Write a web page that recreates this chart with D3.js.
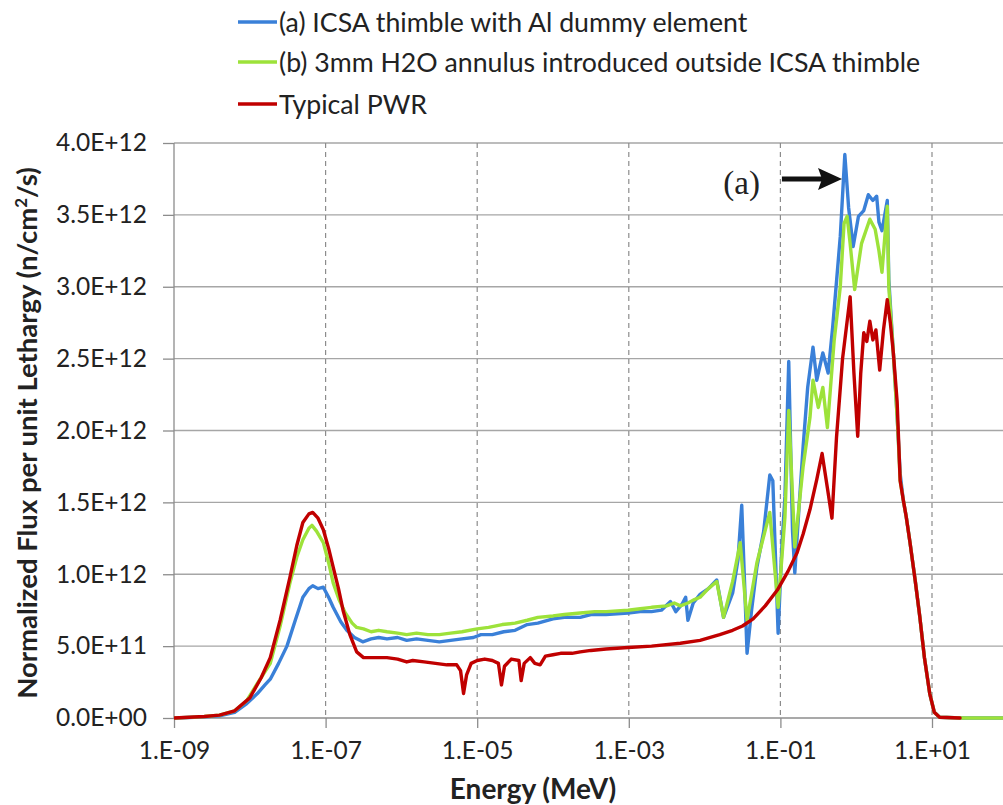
<!DOCTYPE html>
<html><head><meta charset="utf-8">
<script src="https://cdn.jsdelivr.net/npm/d3@7"></script>
<style>body{margin:0;background:#fff} text{font-family:Lato, "Open Sans", sans-serif;fill:#222}</style>
</head><body><svg id="c" width="1003" height="805"></svg>
<script>
// ---------------- data ----------------
const xTickValues = [1e-9, 1e-7, 1e-5, 1e-3, 1e-1, 1e1];
const xTickLabels = ["1.E-09", "1.E-07", "1.E-05", "1.E-03", "1.E-01", "1.E+01"];
const yTickValues = [0, 0.5, 1, 1.5, 2, 2.5, 3, 3.5, 4]; // units of 1E+12
const yTickLabels = ["0.0E+00", "5.0E+11", "1.0E+12", "1.5E+12", "2.0E+12", "2.5E+12", "3.0E+12", "3.5E+12", "4.0E+12"];
const seriesNames = ["(a) ICSA thimble with Al dummy element", "(b) 3mm H2O annulus introduced outside ICSA thimble", "Typical PWR"];
const seriesColors = ["#3a80d8", "#9de23a", "#c00000"];

// [log10(Energy / MeV), flux in 1E+12 n/cm2/s]
const seriesA = [[-9,0],[-8.8,0.003],[-8.6,0.008],[-8.4,0.015],[-8.2,0.04],[-8.04,0.10],[-7.9,0.17],[-7.8,0.23],[-7.73,0.27],[-7.62,0.38],[-7.51,0.50],[-7.4,0.68],[-7.3,0.84],[-7.22,0.90],[-7.17,0.92],[-7.1,0.90],[-7.03,0.91],[-6.96,0.84],[-6.9,0.77],[-6.8,0.67],[-6.72,0.61],[-6.62,0.56],[-6.51,0.53],[-6.4,0.55],[-6.3,0.56],[-6.19,0.55],[-6.05,0.56],[-5.93,0.54],[-5.8,0.55],[-5.65,0.54],[-5.5,0.53],[-5.35,0.54],[-5.2,0.55],[-5.05,0.56],[-4.95,0.58],[-4.8,0.58],[-4.65,0.60],[-4.5,0.61],[-4.34,0.65],[-4.2,0.66],[-4.0,0.69],[-3.85,0.70],[-3.64,0.70],[-3.5,0.72],[-3.3,0.72],[-3.01,0.73],[-2.85,0.74],[-2.7,0.74],[-2.57,0.75],[-2.45,0.81],[-2.38,0.74],[-2.3,0.79],[-2.25,0.84],[-2.22,0.68],[-2.15,0.80],[-2.06,0.86],[-1.95,0.90],[-1.84,0.96],[-1.75,0.70],[-1.63,0.87],[-1.56,1.10],[-1.51,1.48],[-1.47,0.90],[-1.44,0.45],[-1.38,0.75],[-1.31,1.05],[-1.22,1.30],[-1.14,1.69],[-1.1,1.65],[-1.03,0.59],[-0.98,1.20],[-0.94,1.54],[-0.89,2.48],[-0.84,1.30],[-0.81,1.01],[-0.75,1.50],[-0.7,1.89],[-0.64,2.30],[-0.57,2.58],[-0.52,2.35],[-0.44,2.54],[-0.37,2.40],[-0.31,2.72],[-0.21,3.35],[-0.15,3.92],[-0.1,3.55],[-0.04,3.28],[0.03,3.49],[0.1,3.53],[0.16,3.64],[0.22,3.60],[0.27,3.63],[0.3,3.45],[0.34,3.39],[0.41,3.60],[0.43,3.05],[0.49,2.54],[0.54,2.10],[0.58,1.70],[0.62,1.52],[0.66,1.40],[0.71,1.22],[0.78,0.95],[0.84,0.70],[0.9,0.42],[0.97,0.17],[1.03,0.04],[1.1,0.005],[1.4,0],[1.95,0]];

const seriesB = [[-9,0],[-8.8,0.004],[-8.6,0.01],[-8.4,0.02],[-8.2,0.05],[-8.04,0.12],[-7.9,0.24],[-7.73,0.38],[-7.6,0.64],[-7.47,0.94],[-7.38,1.12],[-7.3,1.24],[-7.22,1.32],[-7.18,1.34],[-7.12,1.30],[-7.03,1.22],[-6.96,1.08],[-6.9,0.94],[-6.82,0.82],[-6.74,0.73],[-6.65,0.66],[-6.59,0.63],[-6.5,0.62],[-6.4,0.60],[-6.3,0.61],[-6.19,0.60],[-6.05,0.59],[-5.93,0.58],[-5.8,0.59],[-5.65,0.58],[-5.5,0.58],[-5.35,0.59],[-5.2,0.60],[-5.0,0.62],[-4.85,0.63],[-4.67,0.65],[-4.5,0.66],[-4.34,0.68],[-4.2,0.70],[-4.0,0.71],[-3.85,0.72],[-3.64,0.73],[-3.45,0.74],[-3.3,0.74],[-3.01,0.75],[-2.85,0.76],[-2.7,0.77],[-2.5,0.78],[-2.4,0.80],[-2.32,0.78],[-2.22,0.80],[-2.15,0.82],[-2.06,0.84],[-1.95,0.90],[-1.84,0.95],[-1.75,0.70],[-1.63,0.95],[-1.53,1.22],[-1.44,0.68],[-1.31,1.08],[-1.14,1.43],[-1.03,0.77],[-0.94,1.40],[-0.89,2.14],[-0.81,1.19],[-0.7,1.75],[-0.61,2.09],[-0.57,2.35],[-0.5,2.16],[-0.44,2.30],[-0.38,2.02],[-0.29,2.63],[-0.21,3.00],[-0.16,3.44],[-0.12,3.49],[-0.08,3.30],[-0.02,2.98],[0.07,3.30],[0.18,3.47],[0.25,3.40],[0.3,3.25],[0.34,3.10],[0.41,3.56],[0.43,3.00],[0.49,2.54],[0.55,2.00],[0.58,1.65],[0.62,1.52],[0.66,1.40],[0.71,1.22],[0.78,0.95],[0.84,0.70],[0.9,0.42],[0.97,0.17],[1.03,0.04],[1.1,0.005],[1.4,0],[1.95,0]];

const seriesPWR = [[-9,0],[-8.8,0.005],[-8.6,0.01],[-8.4,0.02],[-8.2,0.05],[-8.0,0.14],[-7.85,0.28],[-7.73,0.42],[-7.6,0.68],[-7.47,0.98],[-7.38,1.20],[-7.3,1.36],[-7.22,1.42],[-7.17,1.43],[-7.1,1.39],[-7.03,1.31],[-6.96,1.18],[-6.9,1.05],[-6.83,0.90],[-6.77,0.75],[-6.68,0.58],[-6.59,0.46],[-6.5,0.42],[-6.4,0.42],[-6.3,0.42],[-6.19,0.42],[-6.05,0.41],[-5.93,0.39],[-5.85,0.40],[-5.7,0.39],[-5.55,0.38],[-5.4,0.37],[-5.27,0.37],[-5.22,0.33],[-5.18,0.17],[-5.14,0.30],[-5.08,0.38],[-5.0,0.40],[-4.9,0.41],[-4.8,0.40],[-4.72,0.38],[-4.68,0.23],[-4.64,0.36],[-4.55,0.41],[-4.45,0.40],[-4.42,0.26],[-4.38,0.38],[-4.3,0.42],[-4.24,0.38],[-4.17,0.37],[-4.1,0.43],[-4.0,0.44],[-3.9,0.45],[-3.75,0.45],[-3.64,0.46],[-3.5,0.47],[-3.3,0.48],[-3.01,0.49],[-2.7,0.50],[-2.32,0.52],[-2.06,0.54],[-1.8,0.58],[-1.63,0.61],[-1.5,0.64],[-1.36,0.69],[-1.2,0.78],[-1.04,0.89],[-0.9,1.02],[-0.78,1.15],[-0.7,1.28],[-0.61,1.45],[-0.52,1.66],[-0.45,1.84],[-0.38,1.60],[-0.32,1.39],[-0.26,1.95],[-0.18,2.50],[-0.08,2.93],[-0.03,2.40],[0.02,1.96],[0.06,2.40],[0.1,2.68],[0.14,2.62],[0.18,2.76],[0.22,2.63],[0.26,2.70],[0.31,2.42],[0.36,2.70],[0.41,2.91],[0.45,2.75],[0.49,2.54],[0.54,2.20],[0.58,1.65],[0.62,1.52],[0.66,1.40],[0.71,1.22],[0.78,0.95],[0.84,0.70],[0.9,0.42],[0.97,0.17],[1.03,0.04],[1.1,0.005],[1.37,0]];

// ---------------- chart ----------------
const svg = d3.select("#c");
const W = 1003, H = 805;
const plotLeft = 174, plotTop = 143, plotBottom = 718;
const x = d3.scaleLog().domain([1e-9, 1e2]).range([plotLeft, plotLeft + 11 * 75.8]);
const y = d3.scaleLinear().domain([0, 4]).range([plotBottom, plotTop]);

svg.append("clipPath").attr("id", "clip").append("rect")
  .attr("x", plotLeft).attr("y", 0).attr("width", W - plotLeft).attr("height", plotBottom + 2);

// horizontal gridlines
svg.append("g").selectAll("line").data(yTickValues.slice(1)).join("line")
  .attr("x1", plotLeft).attr("x2", W).attr("y1", d => y(d)).attr("y2", d => y(d))
  .attr("stroke", "#a6a6a6").attr("stroke-width", 1.3);

// vertical dashed gridlines
svg.append("g").selectAll("line").data(xTickValues.slice(1)).join("line")
  .attr("x1", d => x(d)).attr("x2", d => x(d)).attr("y1", plotTop).attr("y2", plotBottom)
  .attr("stroke", "#8c8c8c").attr("stroke-width", 1.2).attr("stroke-dasharray", "5,4");

// y axis
const yAxis = d3.axisLeft(y).tickValues(yTickValues).tickFormat((d, i) => yTickLabels[i]).tickSize(11).tickPadding(16);
const gy = svg.append("g").attr("transform", `translate(${plotLeft},0)`).call(yAxis);
gy.select(".domain").attr("stroke", "#8c8c8c").attr("stroke-width", 1.3).attr("d", `M0,${plotTop}V${plotBottom}`);
gy.selectAll(".tick line").attr("stroke", "#8c8c8c").attr("stroke-width", 1.3);
gy.selectAll(".tick text").style("font-size", "24.5px").style("font-family", "Lato").attr("fill", "#222");

// x axis
const xAxis = d3.axisBottom(x).tickValues(xTickValues).tickFormat((d, i) => xTickLabels[i]).tickSize(10).tickPadding(14);
const gx = svg.append("g").attr("transform", `translate(0,${plotBottom})`).call(xAxis);
gx.select(".domain").attr("stroke", "#8c8c8c").attr("stroke-width", 1.3).attr("d", `M${plotLeft},0H${W}`);
gx.selectAll(".tick line").attr("stroke", "#8c8c8c").attr("stroke-width", 1.3);
gx.selectAll(".tick text").style("font-size", "24.5px").style("font-family", "Lato").attr("fill", "#222");

// series
const line = d3.line().x(d => x(Math.pow(10, d[0]))).y(d => y(d[1]));
const allSeries = [seriesA, seriesB, seriesPWR];
svg.append("g").attr("clip-path", "url(#clip)").selectAll("path").data(allSeries).join("path")
  .attr("d", line).attr("fill", "none")
  .attr("stroke", (d, i) => seriesColors[i]).attr("stroke-width", 3.4)
  .attr("stroke-linejoin", "round").attr("stroke-linecap", "round");

// axis titles
svg.append("text").attr("x", 533).attr("y", 799).attr("text-anchor", "middle")
  .style("font-size", "28px").style("font-weight", "bold").text("Energy (MeV)");
const yt = svg.append("text").attr("transform", `translate(37,433) rotate(-90)`).attr("text-anchor", "middle")
  .style("font-size", "27.5px").style("font-weight", "bold");
yt.append("tspan").text("Normalized Flux per unit Lethargy (n/cm");
yt.append("tspan").attr("dy", -10).style("font-size", "17px").text("2");
yt.append("tspan").attr("dy", 10).text("/s)");

// legend
const lg = svg.append("g").selectAll("g").data(seriesNames).join("g")
  .attr("transform", (d, i) => `translate(238,${[22, 62, 104][i]})`);
lg.append("line").attr("x1", 0).attr("x2", 39).attr("stroke", (d, i) => seriesColors[i]).attr("stroke-width", 3.4);
lg.append("text").attr("x", 41).attr("y", 9.5).style("font-size", "26.7px").text(d => d);

// annotation
const ay = y(3.75);
const ax0 = x(Math.pow(10, -0.98)), ax1 = x(Math.pow(10, -0.187));
svg.append("line").attr("x1", ax0).attr("x2", ax1 - 18).attr("y1", ay).attr("y2", ay)
  .attr("stroke", "#111").attr("stroke-width", 5);
svg.append("path").attr("d", `M${ax1},${ay} L${ax1 - 24},${ay - 11} L${ax1 - 20},${ay} L${ax1 - 24},${ay + 11} Z`).attr("fill", "#111");
svg.append("text").attr("x", x(Math.pow(10, -1.27))).attr("y", y(3.75) + 15).attr("text-anchor", "end")
  .style("font-family", "'Liberation Serif', 'DejaVu Serif', serif").style("font-size", "33px").attr("fill", "#222").text("(a)");
</script></body></html>
